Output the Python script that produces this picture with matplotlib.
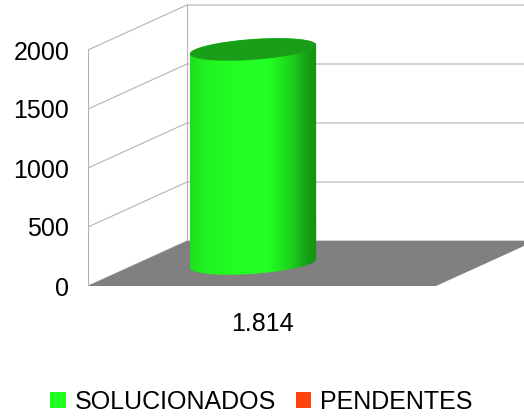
import matplotlib
matplotlib.use('Agg')
import matplotlib.pyplot as plt
import numpy as np
from matplotlib.patches import Polygon, Patch, PathPatch
from matplotlib.path import Path

# ---------------- dados ----------------
categories = ['1.814']
series = ['SOLUCIONADOS', 'PENDENTES']
values = [1814, 0]
colors = ['#22ff22', '#ff420e']
yticks = [0, 500, 1000, 1500, 2000]

plt.rcParams['font.family'] = ['Liberation Sans', 'DejaVu Sans']

# deslocamento da profundidade (pseudo 3D)
DX = 99 / 348
DY = 45 / 236 * 2000
GRID = '#b3b3b3'
FS = 18


def proj(x, y, z):
    return x + z * DX, y + z * DY


fig = plt.figure(figsize=(5.24, 4.17), dpi=100)
ax = fig.add_axes([88 / 524, 131 / 417, 436 / 524, 286 / 417])
ax.set_facecolor('none')
for s in ax.spines.values():
    s.set_visible(False)

# paredes / grade
top = yticks[-1]
for v in yticks:
    x0, y0 = proj(0, v, 0)
    x1, y1 = proj(0, v, 1)
    x2, y2 = proj(1, v, 1)
    ax.plot([x0, x1, x2], [y0, y1, y2], color=GRID, lw=0.8, zorder=1)
for z in (0, 1):
    xa, ya = proj(0, 0, z)
    xb, yb = proj(0, top, z)
    ax.plot([xa, xb], [ya, yb], color=GRID, lw=0.8, zorder=1)

# chao
floor = [proj(0, 0, 0), proj(1, 0, 0), proj(1, 0, 1), proj(0, 0, 1)]
ax.add_patch(Polygon(floor, closed=True, facecolor='#808080', edgecolor='none', zorder=2))

# cilindros
nser = len(series)
gap = 0.336
rx, rz, cz = 0.167, 0.25, 0.5
for i, (v, c) in enumerate(zip(values, colors)):
    if v <= 0:
        continue
    cx = 0.5 + (i - (nser - 1) / 2) * gap
    t1 = np.arctan2(rz * DX, rx)
    t2 = t1 + np.pi

    def ell(th, h):
        zz = cz + rz * np.sin(th)
        return cx + rx * np.cos(th) + zz * DX, h + zz * DY

    front = np.linspace(t2, t1 + 2 * np.pi, 120)
    back = np.linspace(t1, t2, 120)
    bx, by = ell(front, 0)
    tx, ty = ell(back, v)
    px = np.r_[bx, tx]
    py = np.r_[by, ty]
    body = Path(np.c_[px, py], closed=False)
    patch = PathPatch(body, facecolor='none', edgecolor='none')
    ax.add_patch(patch)

    # gradiente horizontal
    n = 200
    tt = np.linspace(0, 1, n)
    bright = np.interp(tt, [0, 0.15, 0.35, 0.62, 0.8, 0.93, 1.0],
                       [0.88, 0.96, 1.0, 1.0, 0.82, 0.62, 0.58])
    base = np.array(matplotlib.colors.to_rgb(c))
    img = (base[None, :] * bright[:, None])[None, :, :]
    im = ax.imshow(img, extent=[px.min(), px.max(), py.min(), py.max()],
                   aspect='auto', zorder=3, interpolation='bilinear')
    im.set_clip_path(patch)

    th = np.linspace(0, 2 * np.pi, 200)
    ex, ey = ell(th, v)
    ax.add_patch(Polygon(np.c_[ex, ey], closed=True, facecolor='#1a9e1a',
                         edgecolor='none', zorder=4))

ax.set_xlim(0, 436 / 348)
ax.set_ylim(0, 2000 * 286 / 236)

ax.set_yticks(yticks)
ax.set_yticklabels([str(t) for t in yticks])
ax.set_xticks([0.5 + k for k in range(len(categories))])
ax.set_xticklabels(categories)
ax.tick_params(axis='y', length=0, pad=13.5, labelsize=FS)
ax.tick_params(axis='x', length=0, pad=19, labelsize=FS)

handles = [Patch(facecolor=c, edgecolor='none', label=s) for s, c in zip(series, colors)]
fig.legend(handles=handles, loc='center', bbox_to_anchor=(261.5 / 524, 15 / 417),
           ncol=2, frameon=False, fontsize=FS, handlelength=0.62, handleheight=0.62,
           handletextpad=0.36, columnspacing=0.8, borderaxespad=0, borderpad=0)

fig.savefig('out.png', dpi=100)
